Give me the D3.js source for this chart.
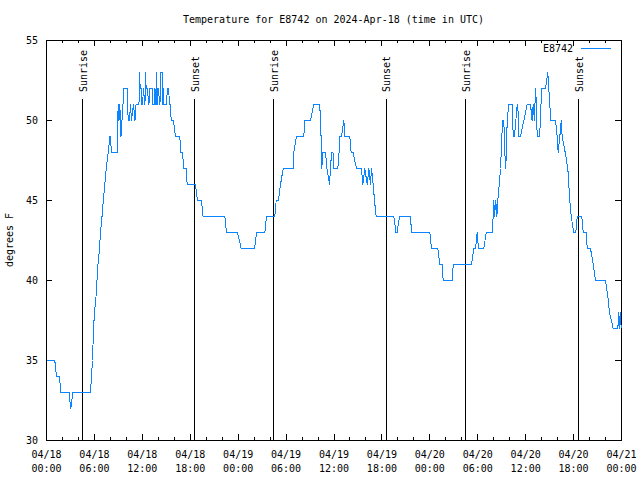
<!DOCTYPE html>
<html>
<head>
<meta charset="utf-8">
<script src="https://cdn.jsdelivr.net/npm/d3@7"></script>
<style>
body { margin: 0; background: #fff; }
text { font-family: "DejaVu Sans Mono", monospace; font-size: 10px; fill: #000; }
</style>
</head>
<body>
<div id="viz_div"></div>
<script>
var station = "E8742";
var title_text = "Temperature for E8742 on 2024-Apr-18 (time in UTC)";
var y_label = "degrees F";

// Observation times, in hours after 2024-04-18 00:00 UTC
var obs_hours = [0.00, 1.04, 1.25, 1.63, 1.79, 2.82, 3.04, 3.29, 5.51, 5.63,
	5.76, 5.89, 6.01, 6.20, 6.32, 6.45, 6.64, 6.76, 6.95, 7.11,
	7.30, 7.48, 7.73, 7.95, 8.05, 8.10, 8.85, 8.91, 8.99, 9.08,
	9.18, 9.33, 9.45, 9.70, 10.11, 10.23, 10.39, 10.52, 10.64, 10.89,
	11.08, 11.21, 11.58, 11.65, 11.73, 11.90, 11.96, 12.06, 12.11, 12.18,
	12.25, 12.33, 12.40, 12.48, 12.68, 12.75, 12.83, 12.90, 13.24, 13.30,
	13.50, 13.56, 13.62, 13.69, 13.74, 13.81, 13.90, 13.94, 14.06, 14.12,
	14.21, 14.28, 14.49, 14.55, 14.61, 14.69, 15.06, 15.11, 15.31, 15.38,
	15.53, 15.61, 15.90, 16.15, 16.69, 16.82, 17.03, 17.19, 17.47, 17.62,
	18.66, 18.91, 19.41, 19.60, 22.33, 22.54, 23.92, 24.38, 26.05, 26.30,
	27.34, 27.55, 28.59, 28.76, 29.05, 29.30, 29.64, 30.89, 30.97, 31.30,
	32.22, 32.34, 33.06, 33.47, 34.19, 34.35, 34.40, 34.47, 34.60, 34.94,
	35.12, 35.44, 35.56, 35.69, 35.87, 36.00, 36.48, 36.63, 36.75, 36.94,
	37.23, 37.38, 37.98, 38.15, 38.38, 38.82, 39.44, 39.61, 39.86, 40.16,
	40.36, 40.57, 40.70, 40.91, 41.07, 41.28, 43.49, 43.76, 43.89, 44.20,
	45.58, 45.71, 48.00, 48.21, 49.00, 49.25, 49.55, 49.67, 50.80, 50.93,
	53.22, 53.51, 53.72, 53.93, 54.09, 54.76, 55.06, 55.81, 55.93, 56.01,
	56.10, 56.26, 56.39, 56.51, 56.69, 56.85, 56.94, 57.10, 57.26, 57.39,
	57.51, 57.69, 57.89, 58.31, 58.44, 58.60, 58.77, 58.94, 59.02, 59.14,
	59.35, 59.77, 60.19, 60.61, 60.80, 60.94, 61.10, 61.23, 61.35, 61.44,
	61.73, 61.86, 61.98, 62.48, 62.77, 62.90, 63.02, 63.15, 63.74, 63.95,
	64.07, 64.28, 64.45, 64.57, 64.95, 65.28, 65.40, 65.53, 65.70, 66.03,
	66.28, 66.46, 67.03, 67.21, 67.58, 67.71, 68.12, 68.46, 68.75, 70.00,
	70.29, 70.50, 70.96, 71.54, 71.66, 71.80, 71.87, 71.96];

// Temperature, degrees F
var obs_temps = [35, 35, 34, 34, 33, 33, 32, 33, 33, 34,
	35, 37, 38, 39, 40, 41, 42, 43, 44, 45,
	46, 47, 48, 49, 49, 48, 48, 50, 51, 50,
	51, 49, 50, 52, 52, 50, 50, 51, 50, 51,
	50, 51, 51, 53, 52, 52, 51, 51, 52, 52,
	51, 51, 53, 52, 52, 51, 51, 52, 52, 51,
	51, 52, 51, 51, 53, 51, 51, 52, 52, 51,
	51, 53, 53, 51, 52, 51, 51, 52, 52, 51,
	51, 50, 50, 49, 49, 48, 48, 47, 47, 46,
	46, 45, 45, 44, 44, 43, 43, 42, 42, 43,
	43, 44, 44, 45, 45, 46, 47, 47, 48, 49,
	49, 50, 50, 51, 51, 50, 48, 47, 48, 48,
	47, 46, 47, 48, 48, 47, 47, 48, 49, 49,
	50, 49, 49, 48, 48, 47, 47, 46, 47, 46,
	47, 46, 47, 46, 45, 44, 44, 43, 43, 44,
	44, 43, 43, 42, 42, 41, 41, 40, 40, 41,
	41, 42, 42, 43, 42, 42, 43, 43, 44, 45,
	44, 45, 44, 45, 46, 47, 48, 50, 50, 48,
	47, 50, 51, 51, 49, 49, 50, 51, 51, 49,
	49, 50, 51, 51, 50, 51, 50, 52, 51, 49,
	49, 50, 52, 52, 53, 52, 51, 50, 50, 49,
	48, 49, 50, 49, 48, 47, 46, 45, 44, 43,
	43, 44, 44, 43, 43, 42, 42, 41, 40, 40,
	39, 38, 37, 37, 38, 37, 38, 37];

var sunrise_hours = [4.55, 28.46, 52.50];
var sunset_hours = [18.57, 42.57, 66.65];

var y_ticks = [30, 35, 40, 45, 50, 55];

var start_ms = Date.UTC(2024, 3, 18, 0, 0);
function hours_to_date(h) {
	return new Date(start_ms + h * 3600 * 1000);
}

var w = 640, h = 480;
var left = 46, right = 621, top_y = 40, bottom = 440;
var line_color = "#0a84ff";

var x = d3.scaleUtc()
	.domain([hours_to_date(0), hours_to_date(72)])
	.range([left, right]);
var y = d3.scaleLinear()
	.domain([30, 55])
	.range([bottom, top_y]);

var svg = d3.select("#viz_div")
	.append("svg")
	.attr("width", w)
	.attr("height", h);

var major_ticks = d3.utcHour.every(6).range(hours_to_date(0), hours_to_date(72.1));
var minor_ticks = d3.utcHour.every(2).range(hours_to_date(0), hours_to_date(72.1))
	.filter(function(d) { return d.getUTCHours() % 6 != 0; });

// minor ticks, bottom and top
svg.append("g").attr("transform", "translate(0," + bottom + ")")
	.call(d3.axisBottom(x).tickValues(minor_ticks).tickSize(-3).tickFormat(""));
svg.append("g").attr("transform", "translate(0," + top_y + ")")
	.call(d3.axisTop(x).tickValues(minor_ticks).tickSize(-3).tickFormat(""));

// major ticks with two line labels
var xaxis = svg.append("g").attr("transform", "translate(0," + bottom + ")")
	.call(d3.axisBottom(x).tickValues(major_ticks).tickSize(-6).tickPadding(11)
		.tickFormat(d3.utcFormat("%m/%d")));
xaxis.selectAll(".tick text").each(function(d) {
	var t = d3.select(this);
	t.append("tspan").attr("x", 0).attr("dy", "1.4em").text(d3.utcFormat("%H:%M")(d));
});
svg.append("g").attr("transform", "translate(0," + top_y + ")")
	.call(d3.axisTop(x).tickValues(major_ticks).tickSize(-6).tickFormat(""));

svg.append("g").attr("transform", "translate(" + left + ",0)")
	.call(d3.axisLeft(y).tickValues(y_ticks).tickSize(-6).tickPadding(8));
svg.append("g").attr("transform", "translate(" + right + ",0)")
	.call(d3.axisRight(y).tickValues(y_ticks).tickSize(-6).tickFormat(""));

svg.selectAll(".domain").remove();
svg.selectAll(".tick text").attr("font-family", null).attr("font-size", null).attr("fill", "#000");
svg.selectAll(".tick line").attr("shape-rendering", "crispEdges");

// plot border
svg.append("rect")
	.attr("x", left + 0.5).attr("y", top_y + 0.5)
	.attr("width", right - left).attr("height", bottom - top_y)
	.attr("fill", "none").attr("stroke", "#000")
	.attr("shape-rendering", "crispEdges");

// sunrise / sunset markers
var sun_events = sunrise_hours.map(function(d) { return { hr: d, label: "Sunrise" }; })
	.concat(sunset_hours.map(function(d) { return { hr: d, label: "Sunset" }; }));

svg.selectAll("line.sun")
	.data(sun_events)
	.enter()
	.append("line")
	.attr("class", "sun")
	.attr("x1", function(d) { return Math.round(x(hours_to_date(d.hr))) + 0.5; })
	.attr("x2", function(d) { return Math.round(x(hours_to_date(d.hr))) + 0.5; })
	.attr("y1", 99)
	.attr("y2", bottom)
	.attr("stroke", "#000")
	.attr("shape-rendering", "crispEdges");

svg.selectAll("text.sun")
	.data(sun_events)
	.enter()
	.append("text")
	.attr("class", "sun")
	.attr("transform", function(d) {
		return "translate(" + (x(hours_to_date(d.hr)) + 1.5) + ",92) rotate(-90)";
	})
	.attr("text-anchor", "start")
	.attr("dominant-baseline", "middle")
	.text(function(d) { return d.label; });

// temperature trace
var data = obs_hours.map(function(d, i) { return { t: hours_to_date(d), v: obs_temps[i] }; });
var line = d3.line()
	.x(function(d) { return x(d.t); })
	.y(function(d) { return y(d.v); });

svg.append("path")
	.datum(data)
	.attr("d", line)
	.attr("transform", "translate(0.5,0.5)")
	.attr("fill", "none")
	.attr("stroke", line_color)
	.attr("stroke-width", 1)
	.attr("shape-rendering", "crispEdges");

// legend
svg.append("text")
	.attr("x", 573).attr("y", 49)
	.attr("text-anchor", "end")
	.attr("dominant-baseline", "middle")
	.text(station);
svg.append("line")
	.attr("x1", 581).attr("x2", 611)
	.attr("y1", 48.5).attr("y2", 48.5)
	.attr("stroke", line_color)
	.attr("shape-rendering", "crispEdges");

// title (centred over the plot area) and y label
svg.append("text")
	.attr("x", (left + right) / 2).attr("y", 20)
	.attr("text-anchor", "middle")
	.attr("dominant-baseline", "middle")
	.text(title_text);
svg.append("text")
	.attr("transform", "translate(10,240) rotate(-90)")
	.attr("text-anchor", "middle")
	.attr("dominant-baseline", "middle")
	.text(y_label);
</script>
</body>
</html>
